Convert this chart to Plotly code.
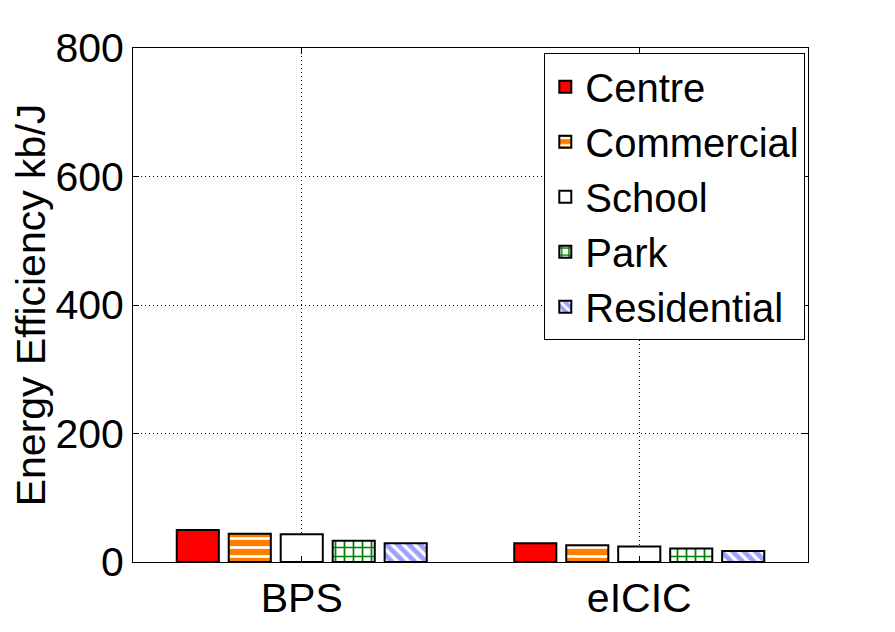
import plotly.graph_objects as go

categories = ["BPS", "eICIC"]
series_names = ["Centre", "Commercial", "School", "Park", "Residential"]
centre = [50, 29]
commercial = [44, 26]
school = [43, 24]
park = [33, 21]
residential = [29, 17]
values = [centre, commercial, school, park, residential]

styles = [
    dict(color="#ff0000", pattern=dict(shape="")),
    dict(color="#ff8000", pattern=dict(shape="-", fgcolor="white", bgcolor="#ff8000", size=9, solidity=0.3, fillmode="replace")),
    dict(color="white", pattern=dict(shape="")),
    dict(color="white", pattern=dict(shape="+", fgcolor="#008000", bgcolor="white", size=9, solidity=0.35, fillmode="replace")),
    dict(color="#a0a0ff", pattern=dict(shape="\\", fgcolor="white", bgcolor="#a0a0ff", size=8, solidity=0.4, fillmode="replace")),
]

fig = go.Figure()
for name, vals, st in zip(series_names, values, styles):
    fig.add_trace(go.Bar(
        x=[1, 2], y=vals, name=name,
        marker=dict(color=st["color"], pattern=st["pattern"],
                    line=dict(color="black", width=2)),
    ))

FS = 41
axis_common = dict(
    showline=True, linecolor="black", linewidth=1, mirror="allticks",
    showgrid=True, gridcolor="black", griddash="1px,3px", gridwidth=1,
    ticks="inside", ticklen=6, tickcolor="black",
    tickfont=dict(size=FS), zeroline=False, automargin=False,
)

fig.update_layout(
    width=895, height=632,
    paper_bgcolor="white", plot_bgcolor="white",
    margin=dict(l=125, r=95, t=40, b=78),
    barmode="group", bargap=0.23, bargroupgap=0.19,
    font=dict(family="Liberation Sans, Arial, sans-serif", size=FS, color="black"),
    showlegend=True,
    legend=dict(x=0.996, y=0.99, xanchor="right", yanchor="top",
                bgcolor="white", bordercolor="black", borderwidth=1,
                font=dict(size=40), itemwidth=30),
    xaxis=dict(range=[0.5, 2.5], tickvals=[1, 2], ticktext=categories, **axis_common),
    yaxis=dict(range=[0, 800], tickvals=[0, 200, 400, 600, 800],
               title=dict(text="Energy Efficiency kb/J", font=dict(size=41), standoff=8),
               **axis_common),
)

fig.write_html("out.html")
